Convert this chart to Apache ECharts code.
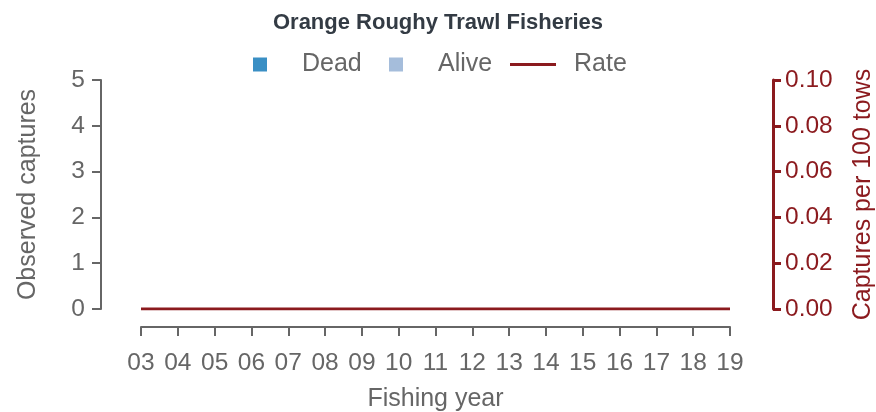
<!DOCTYPE html>
<html>
<head>
<meta charset="utf-8">
<script src="https://cdn.jsdelivr.net/npm/echarts@6/dist/echarts.min.js"></script>
<style>
  html, body { margin: 0; padding: 0; background: #fff; }
  #main { width: 876px; height: 412px; }
</style>
</head>
<body>
<div id="main"></div>
<script>
// fishing years and observed values
var years = ["03", "04", "05", "06", "07", "08", "09", "10", "11", "12", "13", "14", "15", "16", "17", "18", "19"];
var dead = [0, 0, 0, 0, 0, 0, 0, 0, 0, 0, 0, 0, 0, 0, 0, 0, 0];
var alive = [0, 0, 0, 0, 0, 0, 0, 0, 0, 0, 0, 0, 0, 0, 0, 0, 0];
var rate = [0, 0, 0, 0, 0, 0, 0, 0, 0, 0, 0, 0, 0, 0, 0, 0, 0];

var grey = "#666666";
var red = "#8b1a1e";
var font = "Liberation Sans, Arial, sans-serif";

var chart = echarts.init(document.getElementById("main"));
var option = {
  animation: false,
  textStyle: { fontFamily: font },
  title: {
    text: "Orange Roughy Trawl Fisheries",
    left: "center",
    top: 7,
    textStyle: { fontSize: 22, fontWeight: "bold", color: "#333b44", fontFamily: font }
  },
  legend: [
    {
      data: [{ name: "Dead", icon: "rect" }], left: 248, top: 47, itemWidth: 14, itemHeight: 14,
      textStyle: { fontSize: 25, color: grey, padding: [0, 0, 0, 30] }
    },
    {
      data: [{ name: "Alive", icon: "rect" }], left: 384, top: 47, itemWidth: 14, itemHeight: 14,
      textStyle: { fontSize: 25, color: grey, padding: [0, 0, 0, 30] }
    },
    {
      data: [{ name: "Rate", icon: "rect" }], left: 505, top: 47, itemWidth: 46, itemHeight: 3,
      textStyle: { fontSize: 25, color: grey, padding: [0, 0, 0, 13] }
    }
  ],
  grid: { left: 141, right: 146, top: 80, bottom: 103, outerBoundsMode: "none", containLabel: false },
  xAxis: {
    type: "category",
    data: years,
    boundaryGap: false,
    offset: 18,
    name: "Fishing year",
    nameLocation: "middle",
    nameGap: 60,
    nameTextStyle: { fontSize: 25, color: grey },
    axisLine: { onZero: false, lineStyle: { color: grey, width: 2 } },
    axisTick: { length: 9, lineStyle: { color: grey, width: 2 } },
    axisLabel: { fontSize: 24.5, color: grey, margin: 24 },
    splitLine: { show: false }
  },
  yAxis: [
    {
      type: "value",
      min: 0, max: 5, interval: 1,
      offset: 40,
      name: "Observed captures",
      nameLocation: "middle",
      nameGap: 60,
      nameTextStyle: { fontSize: 25, color: grey },
      axisLine: { show: true, lineStyle: { color: grey, width: 2 } },
      axisTick: { show: true, length: 9, lineStyle: { color: grey, width: 2 } },
      axisLabel: { fontSize: 24.5, color: grey, margin: 16 },
      splitLine: { show: false }
    },
    {
      type: "value",
      min: 0, max: 0.1, interval: 0.02,
      offset: 43,
      position: "right",
      name: "Captures per 100 tows",
      nameLocation: "middle",
      nameGap: 78,
      nameTextStyle: { fontSize: 25, color: red },
      axisLine: { show: true, lineStyle: { color: red, width: 3 } },
      axisTick: { show: true, length: 8, lineStyle: { color: red, width: 3 } },
      axisLabel: { fontSize: 24.5, color: red, margin: 12, formatter: function (v) { return v.toFixed(2); } },
      splitLine: { show: false }
    }
  ],
  series: [
    { name: "Dead", type: "bar", stack: "c", data: dead, itemStyle: { color: "#3a8fc4" } },
    { name: "Alive", type: "bar", stack: "c", data: alive, itemStyle: { color: "#a5bddb" } },
    {
      name: "Rate", type: "line", yAxisIndex: 1, data: rate, showSymbol: false,
      lineStyle: { color: red, width: 3 }, itemStyle: { color: red }
    }
  ]
};
chart.setOption(option);
</script>
</body>
</html>
